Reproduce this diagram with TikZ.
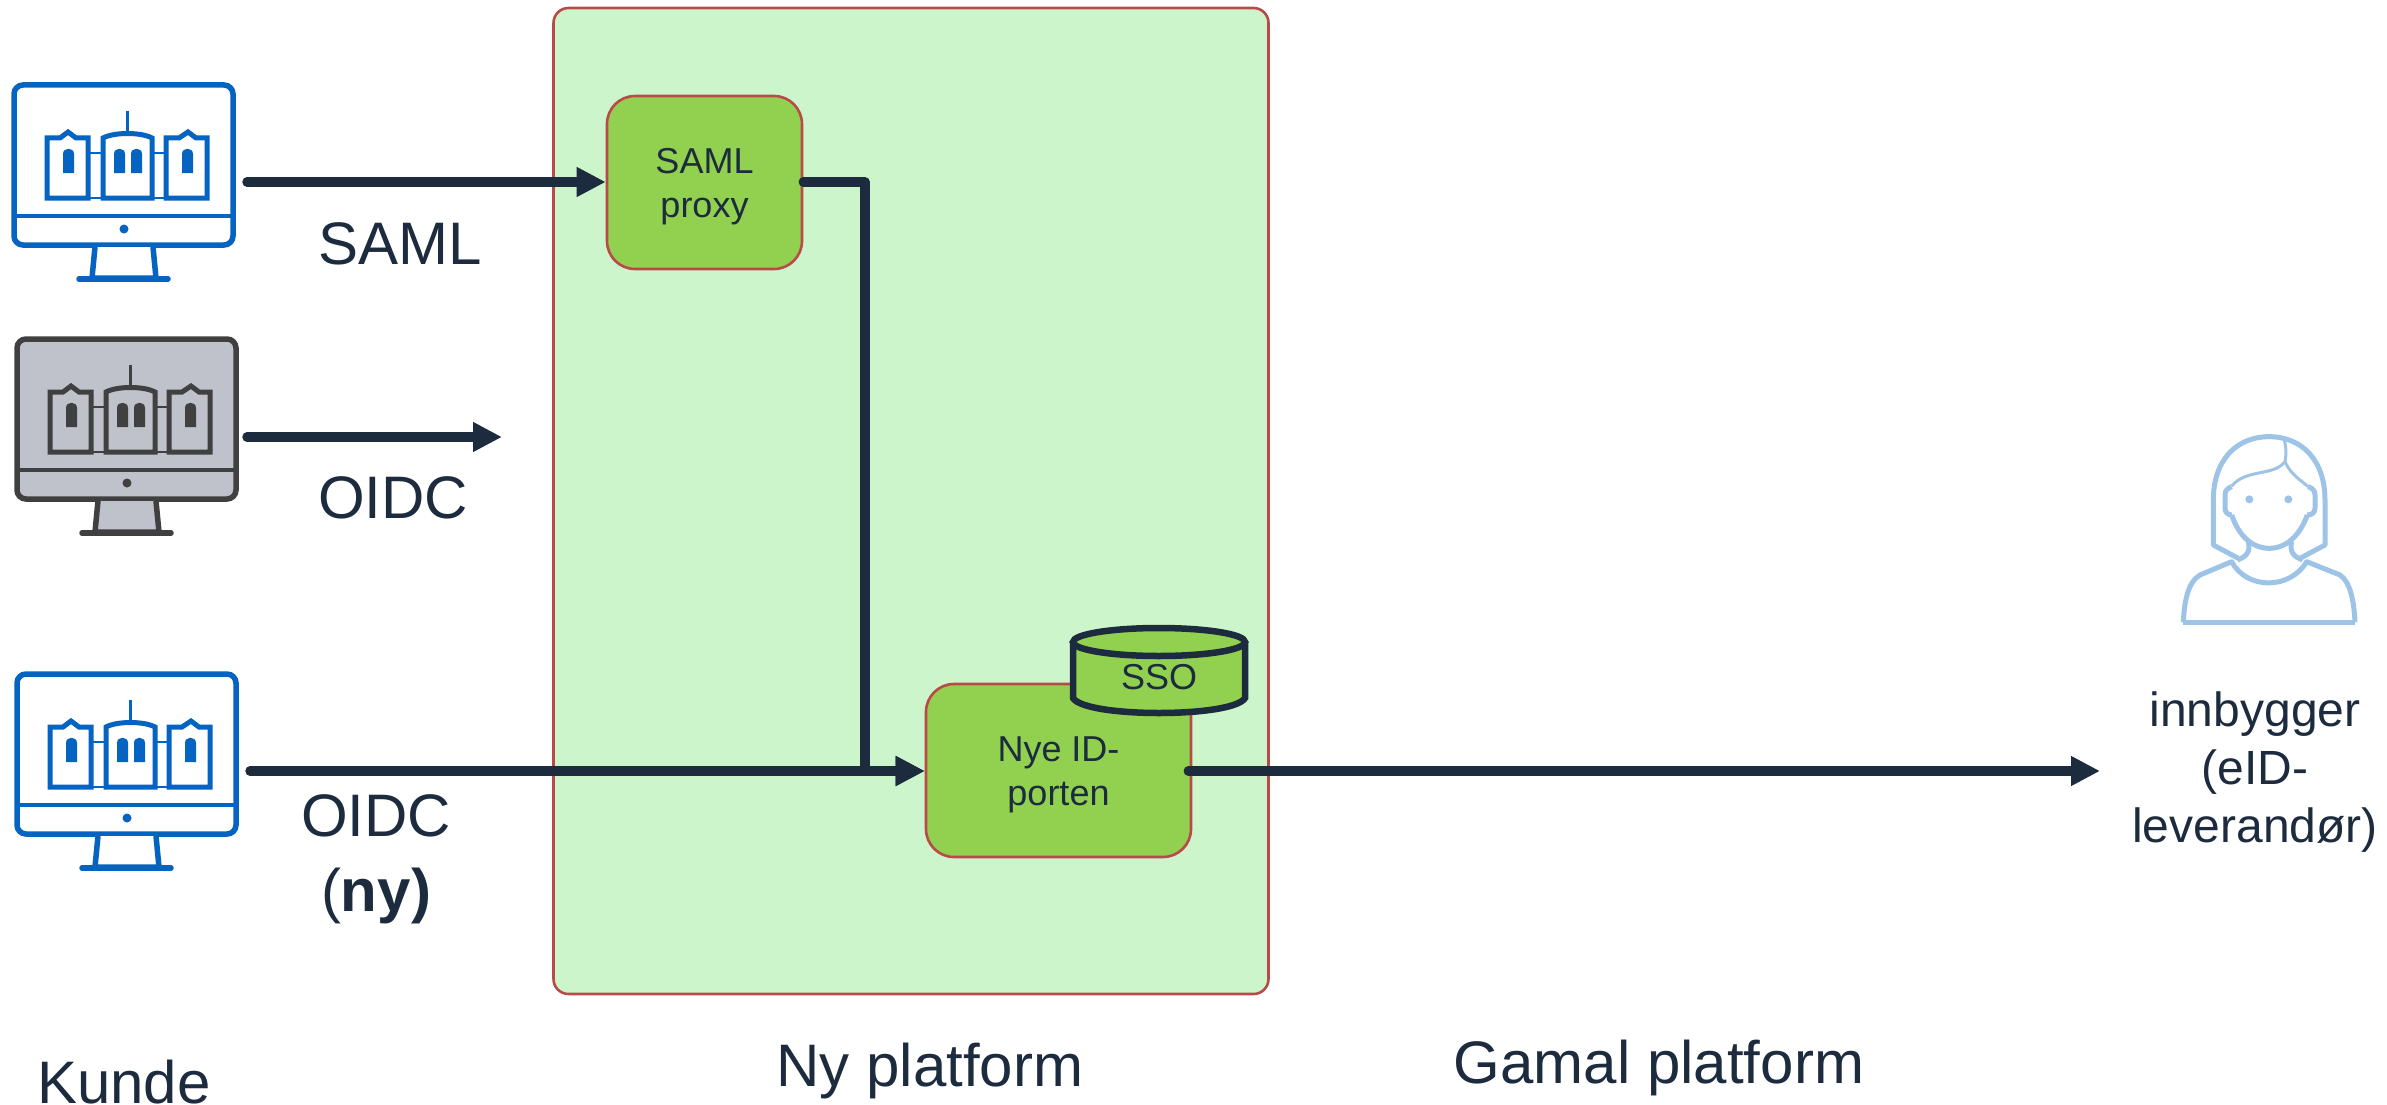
\documentclass[tikz,border=0pt]{standalone}
\usepackage{fontspec}
\setmainfont{Liberation Sans}
\usetikzlibrary{arrows.meta}
\definecolor{navy}{HTML}{1C2B3E}
\definecolor{panelgreen}{HTML}{CCF5CC}
\definecolor{boxgreen}{HTML}{92D14F}
\definecolor{boxred}{HTML}{B94A4A}
\definecolor{kundeblue}{HTML}{0563C1}
\definecolor{kundegray}{HTML}{404040}
\definecolor{screengray}{HTML}{BFC2CB}
\definecolor{personblue}{HTML}{9DC3E6}
\newcommand{\boxtop}{\rule{0pt}{34pt}}
\tikzset{
  box/.style={draw=boxred,fill=boxgreen,line width=2.6pt,rounded corners=28pt,align=center,
    text=navy,font=\fontsize{36}{44}\selectfont},
  lbl/.style={text=navy,align=center,font=\fontsize{60}{75}\selectfont},
  smalllbl/.style={text=navy,align=center,font=\fontsize{48}{58}\selectfont},
  flow/.style={draw=navy,line width=9.5pt,line cap=round,line join=round,-{Triangle[length=29pt,width=28pt]}},
  pics/monitor/.style={code={
    % screen and foot
    \draw[fill=#1,line width=5.5pt,rounded corners=9pt] (0,0) rectangle (219,160);
    \draw[fill=#1,line width=5.5pt] (81,162) -- (78,193) -- (142,193) -- (139,162);
    \draw[line width=5.5pt,line cap=round] (65,194) -- (154,194);
    \draw[line width=3.5pt] (0,131) -- (219,131);
    \fill (110,144) circle[radius=4.5];
    % building
    \draw[line width=2.5pt] (74,68) -- (89,68) (74,113) -- (89,113);
    \draw[line width=2.5pt] (138,68) -- (152,68) (138,113) -- (152,113);
    \draw[line width=5pt] (33,113) -- (33,53) -- (46,53) -- (54,47) -- (62,53) -- (74,53) -- (74,113) -- cycle;
    \draw[line width=5pt] (152,113) -- (152,53) -- (165,53) -- (174,47) -- (182,53) -- (193,53) -- (193,113) -- cycle;
    \draw[line width=5pt] (89,113) -- (89,53) .. controls (100,47) and (127,47) .. (138,53) -- (138,113) -- cycle;
    \draw[line width=3pt] (113,26) -- (113,48);
    % windows
    \foreach \wx in {49,100,117,168}{
      \fill (\wx,88) -- (\wx,69) .. controls (\wx,62) and (\wx+11,62) .. (\wx+11,69) -- (\wx+11,88) -- cycle;
    }
  }}
}
\begin{document}
\begin{tikzpicture}[x=1pt,y=-1pt]
  \useasboundingbox (0,0) rectangle (2387,1105);

  % Ny platform panel
  \node[draw=boxred,fill=panelgreen,line width=2.6pt,rounded corners=15pt,minimum width=715pt,minimum height=986pt,inner sep=0pt] (panel) at (911,501) {};

  % Kunde monitors
  \path (14,85) pic[kundeblue] {monitor=white};
  \path (17,339) pic[kundegray] {monitor=screengray};
  \path (17,674) pic[kundeblue] {monitor=white};

  % Boxes
  \node[box,minimum width=195pt,minimum height=173pt,inner sep=0pt] (samlproxy) at (704.5,182.5) {\boxtop SAML\\proxy};
  \node[box,minimum width=265pt,minimum height=173pt,inner sep=0pt] (nyeid) at (1058.5,770.5) {\boxtop Nye ID-\\porten};

  % Free ends of the arrows
  \coordinate (kunde1) at (247,182);
  \coordinate (kunde2) at (247,437);
  \coordinate (oidcend) at (502,437);
  \coordinate (kunde3) at (250,771);
  \coordinate (innbygger) at (2100,771);

  % Arrows
  \draw[flow] (kunde1) -- (samlproxy.west |- kunde1);
  \draw[flow] (kunde2) -- (oidcend);
  \draw[flow] (kunde3) -- (nyeid.west |- kunde3);
  \draw[flow] (samlproxy.east |- kunde1) -- (865,182) -- (865,771) -- (nyeid.west |- kunde3);
  \draw[flow,shorten <=-4pt] (nyeid.east |- kunde3) -- (innbygger);

  % SSO cylinder
  \draw[navy,fill=boxgreen,line width=6.5pt] (1073,642) -- (1073,698) .. controls (1085,718) and (1233,718) .. (1245,698) -- (1245,642);
  \draw[navy,fill=boxgreen,line width=6.5pt] (1159,642) ellipse[x radius=86,y radius=14];
  \node[text=navy,font=\fontsize{36}{44}\selectfont] (sso) at (1159,677) {SSO};

  % Innbygger
  \begin{scope}[shift={(2150,420)},x=0.3333pt,y=-0.3333pt,draw=personblue,line width=5pt,line join=round]
    \draw (265,415) -- (190,375) -- (190,240) .. controls (190,120) and (260,50) .. (357,50)
      .. controls (455,50) and (525,120) .. (525,240) -- (525,375) -- (450,415);
    \draw (100,607) -- (615,607);
    \draw (100,607) .. controls (103,540) and (115,485) .. (150,465) -- (245,425)
      .. controls (290,510) and (420,510) .. (470,425) -- (570,465) .. controls (600,485) and (612,540) .. (615,607);
    \draw (295,365) .. controls (302,395) and (290,410) .. (262,420);
    \draw (425,365) .. controls (418,395) and (430,410) .. (458,420);
    \draw (245,285) .. controls (265,345) and (305,385) .. (358,385) .. controls (410,385) and (450,345) .. (472,285);
    \draw (245,200) .. controls (232,205) and (225,212) .. (225,225) -- (225,265) .. controls (225,278) and (235,285) .. (245,285);
    \draw (475,200) .. controls (488,205) and (495,212) .. (495,225) -- (495,265) .. controls (495,278) and (485,285) .. (472,285);
    \draw[line width=3pt] (245,198) .. controls (290,145) and (370,170) .. (405,125) .. controls (410,100) and (408,80) .. (403,60);
    \draw[line width=3pt] (405,125) .. controls (420,160) and (450,180) .. (475,200);
    \fill[personblue] (298,238) circle[radius=12];
    \fill[personblue] (415,238) circle[radius=12];
  \end{scope}

  % Labels
  \node[lbl] (samllbl) at (400,244) {SAML};
  \node[lbl] (oidclbl) at (393,498) {OIDC};
  \node[lbl] (nylbl) at (376,859) {OIDC\\(\textbf{ny)}};
  \node[lbl,anchor=base] (kundelbl) at (124,1103) {Kunde};
  \node[lbl] (nyplatform) at (930,1071) {Ny platform};
  \node[lbl] (gamalplatform) at (1659,1068) {Gamal platform};
  \node[smalllbl] (innbyggerlbl) at (2255,772) {innbygger\\(eID-\\leverandør)};
\end{tikzpicture}
\end{document}
